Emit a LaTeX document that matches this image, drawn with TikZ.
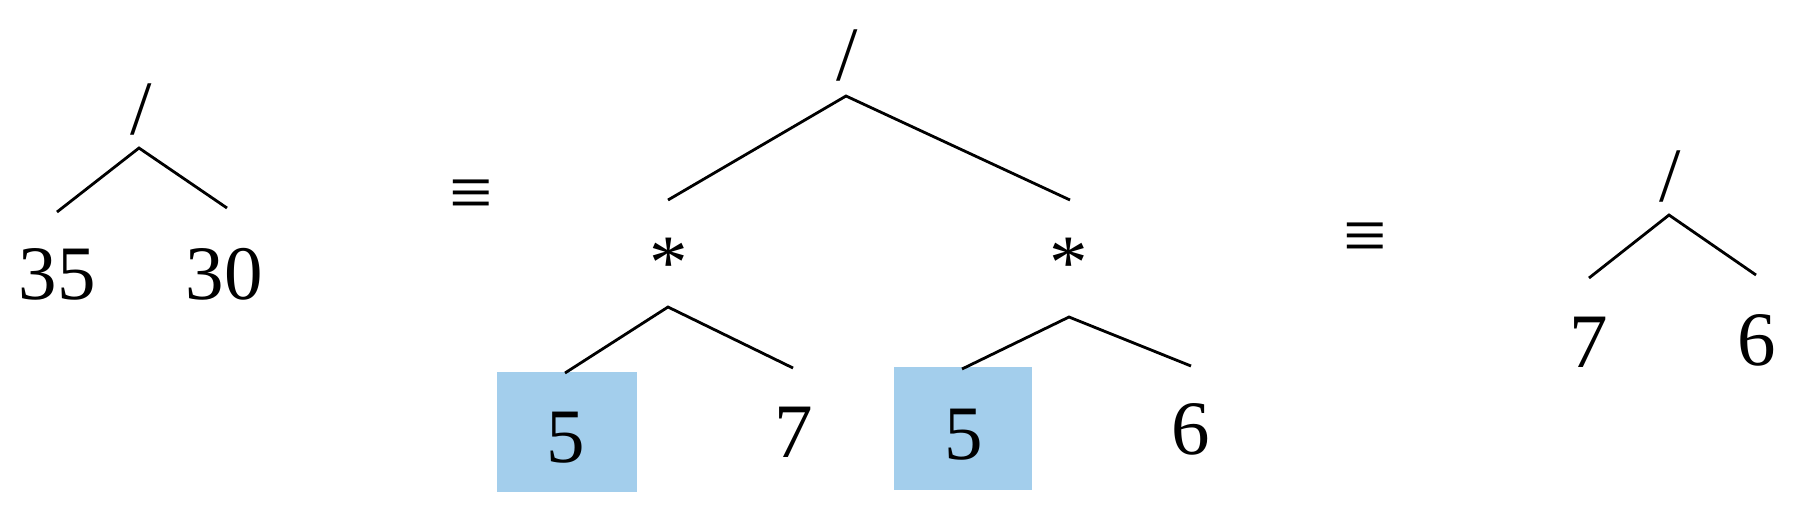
\documentclass[tikz,border=0pt]{standalone}
\usepackage{fontspec}
\setmainfont{Liberation Serif}
\definecolor{hilite}{RGB}{163,206,236}
\tikzset{
  lbl/.style={inner sep=0pt, outer sep=0pt, font=\fontsize{77}{80}\selectfont},
  edge/.style={line width=2.8pt},
  hbox/.style={fill=hilite, draw=none},
}
\begin{document}
\begin{tikzpicture}[x=1pt,y=-1pt]
\useasboundingbox (0,0) rectangle (1793,507);
% ---------- left tree
\node[lbl] (lroot) at (141,109.5) {/};
\coordinate (lap) at (139,148);
\coordinate (lle) at (57,212);
\coordinate (lre) at (227,208);
\node[lbl] (l35) at (57,274) {35};
\node[lbl] (l30) at (224,274) {30};
\draw[edge] (lle) -- (lap) -- (lre);
% ---------- equiv 1
\node[lbl] (eq1) at (471.5,199.5) {≡};
% ---------- middle tree
\node[lbl] (mroot) at (847,55.5) {/};
\coordinate (map) at (846,96);
\coordinate (mle) at (668,200);
\coordinate (mre) at (1070,200);
\draw[edge] (mle) -- (map) -- (mre);
\node[lbl] (s1) at (669,263) {*};
\node[lbl] (s2) at (1069,263) {*};
% left subtree
\draw[hbox] (497,372) rectangle (637,492);
\coordinate (aap) at (668,307);
\coordinate (ale) at (565,373);
\coordinate (are) at (793,368);
\draw[edge] (ale) -- (aap) -- (are);
\node[lbl] (a5) at (565.5,438) {5};
\node[lbl] (a7) at (793.5,432) {7};
% right subtree
\draw[hbox] (894,367) rectangle (1032,490);
\coordinate (bap) at (1069,317);
\coordinate (ble) at (962,369);
\coordinate (bre) at (1191,366);
\draw[edge] (ble) -- (bap) -- (bre);
\node[lbl] (b5) at (963.5,435) {5};
\node[lbl] (b6) at (1190.5,429.5) {6};
% ---------- equiv 2
\node[lbl] (eq2) at (1365,242) {≡};
% ---------- right tree
\node[lbl] (rroot) at (1670,176) {/};
\coordinate (rap) at (1669,215);
\coordinate (rle) at (1589,278);
\coordinate (rre) at (1756,275);
\draw[edge] (rle) -- (rap) -- (rre);
\node[lbl] (r7) at (1589,342) {7};
\node[lbl] (r6) at (1757,340) {6};
\end{tikzpicture}
\end{document}
